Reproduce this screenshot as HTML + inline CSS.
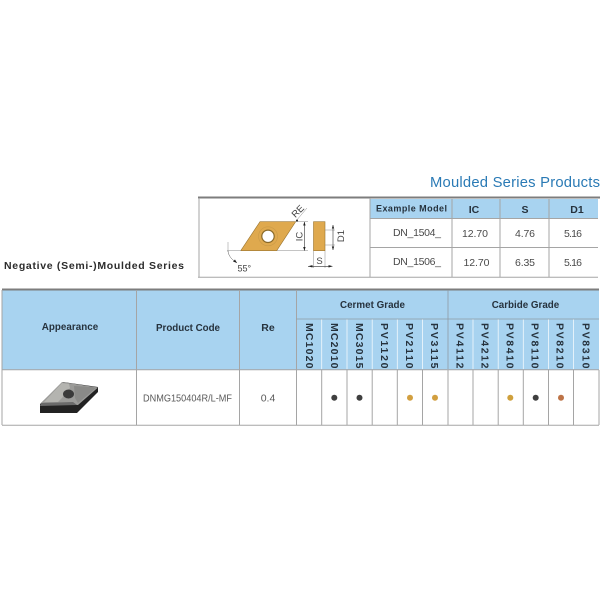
<!DOCTYPE html>
<html>
<head>
<meta charset="utf-8">
<style>
html,body{margin:0;padding:0;background:#fff;width:600px;height:600px;overflow:hidden}
svg{display:block;filter:blur(.35px)}
text{font-family:"Liberation Sans",sans-serif}
</style>
</head>
<body>
<svg width="600" height="600" viewBox="0 0 600 600" xmlns="http://www.w3.org/2000/svg">
<rect width="600" height="600" fill="#fff"/>

<text x="430" y="187" font-size="14.8" fill="#2a7ab5" textLength="170" lengthAdjust="spacing">Moulded Series Products</text>
<text x="4" y="269" font-size="10.5" font-weight="bold" fill="#2b2b2b" textLength="180" lengthAdjust="spacing">Negative (Semi-)Moulded Series</text>

<!-- top table -->
<rect x="370" y="199" width="228" height="19.5" fill="#a8d3f0"/>
<rect x="198" y="196.5" width="402" height="2" fill="#7d7d7d"/>
<g stroke="#a5a5a5" stroke-width="1" fill="none">
<path d="M199 198V277M370 198V277M452 199V277M500 199V277M549 199V277M198 277.2H598M370 218.5H598M370 247.5H598"/>
</g>
<g font-weight="bold" fill="#26323d">
<text x="376" y="211.5" font-size="9" textLength="71" lengthAdjust="spacing">Example Model</text>
<text x="474" y="213" text-anchor="middle" font-size="10.5">IC</text>
<text x="525" y="213" text-anchor="middle" font-size="10.5">S</text>
<text x="577" y="213" text-anchor="middle" font-size="10.5">D1</text>
</g>
<g font-size="10.5" fill="#4a4a4a">
<text x="393" y="236" textLength="48" lengthAdjust="spacing">DN_1504_</text>
<text x="462" y="237" textLength="26" lengthAdjust="spacing">12.70</text>
<text x="515" y="237" textLength="20" lengthAdjust="spacing">4.76</text>
<text x="564" y="237" textLength="18" lengthAdjust="spacing">5.16</text>
<text x="393" y="265" textLength="48" lengthAdjust="spacing">DN_1506_</text>
<text x="463.5" y="266" textLength="26" lengthAdjust="spacing">12.70</text>
<text x="515" y="266" textLength="20" lengthAdjust="spacing">6.35</text>
<text x="564" y="266" textLength="18" lengthAdjust="spacing">5.16</text>
</g>

<!-- insert drawing -->
<polygon points="260,221.7 295.7,221.7 276.7,250.7 240.7,250.7" fill="#dfa94e" stroke="#9a7530" stroke-width=".6"/>
<circle cx="268" cy="236.3" r="9.5" fill="none" stroke="#c99a48" stroke-width=".6"/>
<circle cx="268" cy="236.3" r="6.2" fill="#fff" stroke="#8a6a2a" stroke-width="1.2"/>
<rect x="313.5" y="221.7" width="11.5" height="29" fill="#dfa94e" stroke="#9a7530" stroke-width=".6"/>
<g stroke="#8a8a8a" stroke-width=".5" fill="none">
<path d="M296 221.7H308M277 250.7H308M325 230H335M325 245H335M313.5 251V268M325 251V268M227 250.7H241M228 242V252"/>
<path d="M296 221L307 208"/>
<path d="M228 251C228.5 256 232 260 237 262.7" stroke="#555"/>
</g>
<g stroke="#333" stroke-width=".6" fill="none">
<path d="M304.4 222V250.5M333 225V250M308 266.3H330"/>
</g>
<g fill="#222">
<polygon points="304.4,221.7 303.2,225.5 305.6,225.5"/>
<polygon points="304.4,250.7 303.2,247 305.6,247"/>
<polygon points="333,225 331.8,228.5 334.2,228.5"/>
<polygon points="333,250 331.8,246.5 334.2,246.5"/>
<polygon points="308,266.3 312.5,265.1 312.5,267.5"/>
<polygon points="333,266.3 328.5,265.1 328.5,267.5"/>
<polygon points="237,263 233,261.5 235,259.5"/>
<circle cx="297" cy="220.5" r="1"/>
</g>
<g fill="#444">
<text transform="translate(300,213.5) rotate(-45)" text-anchor="middle" font-size="9.5">RE</text>
<text transform="translate(302.5,236.5) rotate(-90)" text-anchor="middle" font-size="9.5">IC</text>
<text transform="translate(344,236) rotate(-90)" text-anchor="middle" font-size="9.5">D1</text>
<text x="319.5" y="264" text-anchor="middle" font-size="9.5">S</text>
<text x="237.5" y="271.5" font-size="9">55°</text>
</g>

<!-- main table -->
<rect x="2" y="290" width="597" height="79.5" fill="#a8d3f0"/>
<rect x="2" y="288.5" width="597" height="2" fill="#7d7d7d"/>
<g stroke="#a5a5a5" stroke-width="1" fill="none">
<path d="M2 290V425M136.5 290V425M239.5 290V425M296.5 290V425M2 425.3H599M2 369.8H599"/>
<path d="M321.7 370V425M347 370V425M372.2 370V425M397.3 370V425M422.5 370V425M448 370V425M473 370V425M498.2 370V425M523.3 370V425M548.5 370V425M573.5 370V425M599 370V425"/>
</g>
<g stroke="#fff" stroke-width=".8" fill="none" opacity=".85">
<path d="M321.7 319V369M347 319V369M372.2 319V369M397.3 319V369M422.5 319V369M473 319V369M498.2 319V369M523.3 319V369M548.5 319V369M573.5 319V369"/>
</g>
<path d="M296.5 319H599M448 290V369" stroke="#8f9aa3" stroke-width=".8" fill="none"/>

<g font-weight="bold" fill="#26323d" font-size="9.8">
<text x="41.7" y="330" textLength="56.5" lengthAdjust="spacing">Appearance</text>
<text x="156" y="331" textLength="64" lengthAdjust="spacing">Product Code</text>
<text x="268" y="331" text-anchor="middle" font-size="10.5">Re</text>
<text x="340" y="308" textLength="65" lengthAdjust="spacing">Cermet Grade</text>
<text x="491.7" y="308" textLength="67.5" lengthAdjust="spacing">Carbide Grade</text>
</g>
<g font-weight="bold" fill="#26323d" font-size="10.5">
<text transform="translate(306,323) rotate(90)" textLength="45.5" lengthAdjust="spacing">MC1020</text>
<text transform="translate(331,323) rotate(90)" textLength="45.5" lengthAdjust="spacing">MC2010</text>
<text transform="translate(356,323) rotate(90)" textLength="45.5" lengthAdjust="spacing">MC3015</text>
<text transform="translate(381,323) rotate(90)" textLength="45.5" lengthAdjust="spacing">PV1120</text>
<text transform="translate(406,323) rotate(90)" textLength="45.5" lengthAdjust="spacing">PV2110</text>
<text transform="translate(431,323) rotate(90)" textLength="45.5" lengthAdjust="spacing">PV3115</text>
<text transform="translate(456.3,323) rotate(90)" textLength="45.5" lengthAdjust="spacing">PV4112</text>
<text transform="translate(481.7,323) rotate(90)" textLength="45.5" lengthAdjust="spacing">PV4212</text>
<text transform="translate(506.7,323) rotate(90)" textLength="45.5" lengthAdjust="spacing">PV8410</text>
<text transform="translate(531.7,323) rotate(90)" textLength="45.5" lengthAdjust="spacing">PV8110</text>
<text transform="translate(556.7,323) rotate(90)" textLength="45.5" lengthAdjust="spacing">PV8210</text>
<text transform="translate(582.3,323) rotate(90)" textLength="45.5" lengthAdjust="spacing">PV8310</text>
</g>

<text x="143" y="401.5" font-size="10.5" fill="#5a5a5a" textLength="89" lengthAdjust="spacingAndGlyphs">DNMG150404R/L-MF</text>
<text x="268" y="401.5" text-anchor="middle" font-size="10.5" fill="#5a5a5a">0.4</text>

<circle cx="334.3" cy="397.7" r="3" fill="#3f3f3f"/>
<circle cx="359.5" cy="397.7" r="3" fill="#3f3f3f"/>
<circle cx="410" cy="397.7" r="3" fill="#d29f3f"/>
<circle cx="435" cy="397.7" r="3" fill="#d29f3f"/>
<circle cx="510.3" cy="397.7" r="3" fill="#cfa03c"/>
<circle cx="535.7" cy="397.7" r="3" fill="#3f3f3f"/>
<circle cx="561" cy="397.7" r="3" fill="#bd7346"/>

<!-- insert photo -->
<polygon points="40,404 63,382 98,387 98,392 77,413 40,413" fill="#222"/>
<polygon points="40,404 62,382 98,387.5 78,405" fill="#9b9b99"/>
<polygon points="44,402 62,383 69,384 70,388 62,398 58,402" fill="#b4b4b0"/>
<polygon points="74,386 93,387 96,388 78,403 75,398" fill="#8a8a88"/>
<polygon points="41,403 73,402 77,405 40,406" fill="#6a6a6a"/>
<ellipse cx="68.5" cy="394" rx="5.5" ry="4.5" fill="#3a3a3a"/>
</svg>
</body>
</html>
